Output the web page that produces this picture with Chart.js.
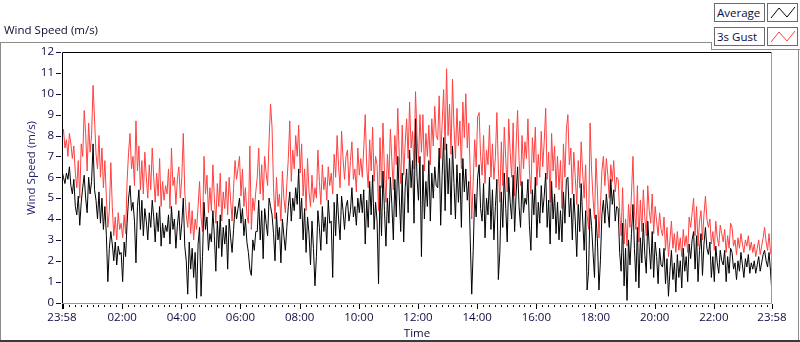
<!DOCTYPE html>
<html>
<head>
<meta charset="utf-8">
<script src="https://cdn.jsdelivr.net/npm/chart.js@4/dist/chart.umd.min.js"></script>
<style>
  html, body { margin: 0; padding: 0; background: #fff; }
  #wrap { position: relative; width: 800px; height: 342px; overflow: hidden; font-family: "Open Sans", sans-serif; }
  #c { position: absolute; left: 0; top: 0; }
  .gl { position: absolute; background: #8c8c8c; }
  #title { position: absolute; left: 4px; top: 22px; font-size: 11.5px; color: #0c0c30; white-space: nowrap; }
  .lgtext { position: absolute; left: 714px; width: 47px; height: 17px; border: 1px solid #6a6a6a; background: #fff;
            font-size: 11.5px; line-height: 17px; color: #0c0c40; padding-left: 2px; box-sizing: content-box; white-space: nowrap; }
  .lgicon { position: absolute; left: 767px; width: 29px; height: 17px; border: 1px solid #6a6a6a; background: #fff; }
</style>
</head>
<body>
<div id="wrap">
  <canvas id="c" width="800" height="342"></canvas>
  <div class="gl" style="left:0;top:42px;width:712px;height:1px"></div>
  <div class="gl" style="left:711px;top:42px;width:1px;height:8px"></div>
  <div class="gl" style="left:711px;top:49px;width:89px;height:1px"></div>
  <div class="gl" style="left:0;top:42px;width:1px;height:300px"></div>
  <div class="gl" style="left:798px;top:49px;width:1px;height:293px"></div>
  <div class="gl" style="left:0;top:340px;width:800px;height:2px;background:#3a3a3a"></div>
  <div id="title">Wind Speed (m/s)</div>
  <div class="lgtext" style="top:3px" id="lg0"></div>
  <div class="lgicon" style="top:3px"><svg width="29" height="17"><polyline points="3,14 11,4 19,13 27,3" fill="none" stroke="#000" stroke-width="1"/></svg></div>
  <div class="lgtext" style="top:27px" id="lg1"></div>
  <div class="lgicon" style="top:27px"><svg width="29" height="17"><polyline points="3,14 11,4 19,13 27,3" fill="none" stroke="#ff4040" stroke-width="1"/></svg></div>
</div>
<script>
// ---- data ----
const seriesNames = ["Average", "3s Gust"];
const xTickMinutes = [0, 122, 242, 362, 482, 602, 722, 842, 962, 1082, 1202, 1322, 1440];
const xTickLabels = ["23:58", "02:00", "04:00", "06:00", "08:00", "10:00", "12:00", "14:00", "16:00", "18:00", "20:00", "22:00", "23:58"];
const yTickValues = [0, 1, 2, 3, 4, 5, 6, 7, 8, 9, 10, 11, 12];
const dayMinutes = 1440;

const gustSpeed = [
7.9,8.3,7.4,7.8,7.0,8.1,7.6,6.9,7.5,6.2,
5.5,6.8,5.0,7.6,7.0,9.2,8.1,6.3,8.6,7.2,
8.0,10.4,8.8,7.1,6.4,8.0,6.0,7.4,5.5,6.8,
5.0,3.6,4.4,6.7,4.6,3.2,4.1,3.0,4.3,3.5,
3.8,3.1,4.2,3.3,5.8,7.2,8.1,6.4,7.0,5.6,
8.7,6.3,7.5,5.4,6.8,5.2,7.2,6.0,5.0,6.6,
5.4,7.4,6.0,4.8,6.2,5.1,6.9,4.6,5.8,4.9,5.6,
5.2,6.4,4.5,7.4,5.6,6.0,4.7,5.9,6.5,5.0,
6.0,8.1,5.3,4.2,3.6,4.8,3.3,4.4,3.0,4.0,
3.5,4.6,5.8,4.1,3.4,7.0,5.2,6.1,4.3,5.5,
4.4,6.6,5.0,3.8,5.7,4.6,6.2,3.9,5.3,4.5,
5.8,4.2,6.0,4.9,3.9,5.5,6.8,5.9,6.4,7.0,
5.1,6.4,4.6,5.5,4.2,3.8,7.5,3.5,5.0,4.4,5.3,
6.0,7.4,5.2,6.6,4.9,7.0,6.2,5.6,7.8,9.5,
8.4,5.5,4.0,6.0,4.6,5.2,3.9,6.3,5.0,4.3,
5.7,6.9,8.7,5.8,7.3,6.4,8.0,7.0,8.5,6.2,
7.6,5.1,6.4,4.4,6.9,5.3,4.6,6.1,4.8,5.5,
5.0,7.3,5.8,4.7,6.6,5.4,6.0,4.9,6.5,5.6,
6.2,5.2,7.1,6.0,8.0,6.5,5.5,8.2,6.9,5.9,7.0,
7.3,5.6,6.8,7.7,5.9,6.4,5.3,7.4,6.1,6.9,
6.0,7.4,9.0,6.5,5.5,7.8,6.3,8.4,5.8,7.0,
6.6,4.4,7.9,5.5,8.6,6.2,4.8,7.1,5.9,8.3,
6.8,5.4,8.0,6.6,9.3,7.0,5.7,8.5,6.1,7.6,
8.8,6.9,9.6,7.4,8.2,6.4,10.1,8.0,6.7,9.0,
7.2,9.0,6.3,8.1,7.0,8.5,6.6,8.8,7.5,9.4,8.0,
7.8,9.9,6.9,8.6,10.2,7.3,11.2,8.0,9.5,7.1,
10.7,8.4,6.9,9.3,7.5,8.7,6.4,9.6,7.9,10.0,
7.4,8.6,6.2,4.0,5.8,7.8,6.5,8.9,9.1,7.0,
6.1,8.0,5.7,7.3,6.6,8.5,6.0,7.6,5.9,7.0,
9.1,6.4,4.8,7.7,5.6,8.4,6.9,5.3,8.8,7.2,
6.0,8.6,5.1,7.5,9.2,6.8,5.6,8.0,6.4,7.7,6.9,
8.8,6.3,5.2,7.9,6.7,8.4,5.6,7.1,6.0,8.2,
6.5,7.7,9.3,5.9,7.2,4.8,8.1,6.3,7.5,5.5,
7.0,5.4,6.8,4.5,7.6,6.0,8.3,9.0,6.6,7.4,
5.2,7.2,6.0,4.7,6.8,5.5,7.7,6.2,5.0,6.6,
4.2,3.5,8.6,6.4,5.0,4.0,6.9,5.3,3.1,4.6,
6.3,7.0,5.6,6.9,6.1,5.0,6.6,5.8,6.8,5.3,6.0,
5.9,4.3,3.2,5.5,2.8,4.0,2.7,4.7,3.6,5.2,
7.0,4.4,3.5,5.6,2.9,4.9,3.4,5.4,4.1,3.2,
5.6,4.4,3.8,5.2,3.3,4.6,3.9,3.2,4.3,3.5,
3.2,4.1,2.5,3.6,2.2,3.0,3.9,2.6,3.3,2.4,
3.4,2.5,3.1,2.2,3.5,2.7,3.2,2.4,4.1,3.6,
4.3,5.0,3.2,4.6,2.7,3.9,4.4,3.0,4.2,5.1,4.0,
3.6,4.0,2.8,3.4,2.5,3.9,3.1,2.7,3.7,3.3,
2.9,3.5,2.4,3.2,2.6,3.8,3.6,2.7,3.0,2.3,
3.1,2.6,3.3,2.8,2.4,3.0,2.7,3.2,2.5,2.9,
2.4,2.8,2.2,2.6,3.0,2.3,2.7,3.1,3.6,2.9,
2.5,3.3,2.4,2.2
];

const avgSpeed = [
6.3,6.0,5.7,6.2,5.9,6.5,5.6,5.2,5.9,4.6,
4.2,5.1,3.7,4.8,5.5,6.1,5.0,4.3,6.0,5.2,
5.8,7.6,5.4,4.9,4.0,5.3,3.8,5.0,3.5,4.6,
3.2,1.0,2.6,3.4,2.8,2.0,2.9,1.8,2.7,2.3,
2.4,1.0,2.9,2.2,3.8,5.0,5.6,4.4,4.8,3.9,
1.9,4.6,5.4,3.5,4.9,3.2,4.5,3.9,3.0,4.3,
3.6,4.9,4.1,2.9,4.3,3.4,4.6,2.7,3.8,3.1,3.7,
3.4,4.2,2.8,4.6,3.5,4.0,2.6,3.7,4.4,3.0,
3.8,5.0,2.7,2.0,0.4,2.9,1.6,2.6,1.2,2.4,
0.2,2.8,3.6,0.3,2.2,4.8,3.5,4.1,2.5,3.3,
2.9,4.4,3.2,1.5,3.9,2.6,4.2,2.2,3.6,2.8,
3.7,1.6,4.0,3.1,2.4,3.5,4.6,4.0,4.5,5.0,
3.8,4.5,3.2,4.0,2.9,2.4,1.6,1.3,3.0,2.5,3.4,
3.4,4.9,3.0,4.4,2.1,4.5,3.8,3.2,5.0,4.6,
4.2,3.3,2.0,4.3,3.0,3.6,1.9,4.0,3.2,2.5,
3.6,4.6,5.3,3.9,5.0,4.4,5.5,4.7,6.4,4.0,
5.0,3.0,4.5,2.4,4.1,3.3,1.8,3.9,2.6,0.8,
2.2,4.4,3.6,2.5,4.6,3.4,4.1,2.8,4.9,3.8,
3.9,1.2,4.8,3.2,5.2,4.0,3.0,5.1,4.4,3.5,4.6,
4.9,3.9,4.4,5.5,4.1,4.6,3.7,5.0,4.3,5.2,
4.3,5.4,2.8,4.9,3.6,5.8,4.2,6.1,3.5,4.8,
3.9,0.9,5.6,3.2,6.3,4.4,2.7,5.0,3.8,6.0,
4.7,3.0,5.9,4.1,7.0,5.1,3.4,6.2,2.9,5.5,
6.4,4.3,7.3,5.5,6.8,3.8,8.8,6.0,4.9,7.0,
2.2,6.6,4.0,5.8,4.6,6.8,3.9,6.2,5.0,6.5,5.6,
5.5,7.4,3.7,6.1,7.9,4.4,7.6,5.2,6.9,4.2,
7.5,5.7,4.0,6.6,4.8,6.2,3.6,6.9,5.3,6.4,
4.9,5.8,3.0,0.4,2.5,5.2,4.1,6.0,6.6,4.5,
3.9,5.7,3.1,5.0,4.2,6.0,3.5,5.4,3.0,4.6,
5.9,1.1,2.4,5.3,3.6,6.2,4.5,2.9,6.0,4.8,
4.0,6.1,3.4,5.2,6.5,4.6,3.6,5.8,4.3,5.0,4.7,
5.9,3.7,2.5,5.4,4.2,6.0,3.1,4.8,3.8,5.6,
4.3,5.1,6.2,3.6,4.9,2.8,5.8,4.0,5.2,3.3,
4.8,3.0,4.4,2.9,5.3,3.8,5.9,6.0,4.1,5.0,
3.0,5.2,3.9,2.2,4.7,3.4,5.7,4.0,2.5,4.4,
0.6,1.5,4.5,3.7,2.4,1.2,4.2,2.9,0.6,2.0,
4.2,4.9,3.8,5.2,4.4,3.6,5.9,4.7,5.4,3.9,4.6,
4.5,2.4,1.5,3.8,0.8,2.6,0.1,3.0,1.8,3.3,
4.7,2.6,1.0,3.6,0.7,3.1,1.9,3.8,2.3,1.4,
3.9,2.7,1.6,3.4,1.2,2.9,2.2,0.9,2.6,1.8,
1.7,2.6,0.9,2.1,0.3,1.5,2.5,1.1,1.9,0.5,
2.3,1.2,2.0,0.7,2.6,1.5,2.2,1.0,2.8,2.1,
3.0,3.4,1.6,3.2,1.0,2.5,3.3,1.3,2.8,3.6,2.6,
2.3,2.9,1.2,2.2,1.0,2.7,1.9,1.4,2.5,2.0,
1.8,2.5,1.0,2.2,1.4,2.6,2.4,1.6,1.9,1.1,
2.0,1.5,2.4,1.8,1.2,2.1,1.7,2.3,1.4,1.9,
1.6,2.0,1.4,1.8,2.2,1.5,1.9,2.3,2.5,2.0,
1.7,2.4,1.5,0.4
];

// sample times (minutes after 23:58), evenly spaced over the day
const sampleStep = dayMinutes / (avgSpeed.length - 1);
const toPoints = arr => arr.map((v, i) => ({ x: i * sampleStep, y: v }));

document.getElementById('lg0').textContent = seriesNames[0];
document.getElementById('lg1').textContent = seriesNames[1];

const FONT = '"Open Sans", sans-serif';
Chart.defaults.font.family = FONT;

const framePlugin = {
  id: 'frame',
  afterDraw(chart) {
    const ctx = chart.ctx;
    const { left, right, top, bottom } = chart.chartArea;
    const xs = chart.scales.x, ys = chart.scales.y;
    ctx.save();
    ctx.lineWidth = 1;
    // frame
    ctx.strokeStyle = '#000';
    ctx.beginPath();
    ctx.moveTo(left + 0.5, bottom); ctx.lineTo(left + 0.5, top + 0.5); ctx.lineTo(right, top + 0.5);
    ctx.stroke();
    ctx.strokeStyle = '#9a9a9a';
    ctx.beginPath();
    ctx.moveTo(right - 0.5, top); ctx.lineTo(right - 0.5, bottom - 0.5); ctx.lineTo(left, bottom - 0.5);
    ctx.stroke();
    // y ticks
    ctx.strokeStyle = '#101040';
    ctx.beginPath();
    yTickValues.forEach(v => {
      const y = Math.round(ys.getPixelForValue(v)) + 0.5;
      ctx.moveTo(left - 6, y); ctx.lineTo(left - 1, y);
    });
    ctx.stroke();
    // x minor ticks every 12 min aligned to whole hours
    ctx.strokeStyle = '#000';
    ctx.beginPath();
    for (let m = 14; m < dayMinutes; m += 12) {
      if (xTickMinutes.includes(m)) continue;
      const x = Math.round(xs.getPixelForValue(m)) + 0.5;
      ctx.moveTo(x, bottom + 1); ctx.lineTo(x, bottom + 3);
    }
    ctx.stroke();
    // x major ticks
    ctx.beginPath();
    xTickMinutes.forEach((m, i) => {
      const x = Math.round(xs.getPixelForValue(m)) + 0.5;
      ctx.moveTo(x, bottom); ctx.lineTo(x, bottom + 5);
      if (i === 0) { ctx.moveTo(x + 1, bottom); ctx.lineTo(x + 1, bottom + 5); }
    });
    ctx.stroke();
    // y axis title
    ctx.fillStyle = '#1e1e70';
    ctx.font = '11.5px ' + FONT;
    ctx.textAlign = 'center';
    ctx.textBaseline = 'middle';
    ctx.translate(32, 168);
    ctx.rotate(-Math.PI / 2);
    ctx.fillText('Wind Speed (m/s)', 0, 0);
    ctx.restore();
  }
};

new Chart(document.getElementById('c'), {
  type: 'line',
  data: {
    datasets: [
      { label: seriesNames[0], data: toPoints(avgSpeed), borderColor: '#000000', borderWidth: 1, pointRadius: 0, tension: 0, fill: false },
      { label: seriesNames[1], data: toPoints(gustSpeed), borderColor: '#ff4040', borderWidth: 1, pointRadius: 0, tension: 0, fill: false }
    ]
  },
  options: {
    responsive: false,
    animation: false,
    devicePixelRatio: 1,
    layout: { padding: { left: 0, right: 28, top: 52, bottom: 0 } },
    plugins: { legend: { display: false }, tooltip: { enabled: false }, title: { display: false } },
    scales: {
      x: {
        type: 'linear', min: 0, max: dayMinutes,
        grid: { display: false, drawTicks: false }, border: { display: false },
        afterFit: s => { s.height = 38; },
        afterBuildTicks: s => { s.ticks = xTickMinutes.map(v => ({ value: v })); },
        ticks: {
          autoSkip: false, maxRotation: 0, padding: 7, color: '#0c0c40', font: { size: 11.5 },
          callback: v => xTickLabels[xTickMinutes.indexOf(v)]
        },
        title: { display: true, text: 'Time', color: '#0c0c40', font: { size: 11.5 }, padding: { top: 0, bottom: 1 } }
      },
      y: {
        type: 'linear', min: -0.07, max: 12,
        grid: { display: false, drawTicks: false }, border: { display: false },
        afterFit: s => { s.width = 62; },
        afterBuildTicks: s => { s.ticks = yTickValues.map(v => ({ value: v })); },
        ticks: { padding: 8, color: '#0c0c40', font: { size: 11.5 } }
      }
    }
  },
  plugins: [framePlugin]
});
</script>
</body>
</html>
